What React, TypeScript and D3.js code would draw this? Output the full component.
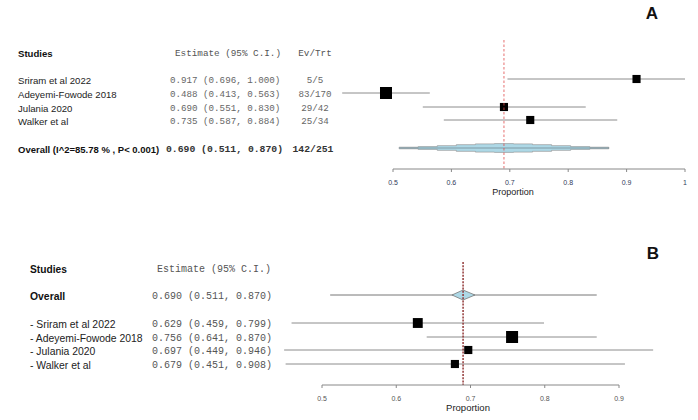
import React from "react";
import * as d3 from "d3";

// ---------- Panel A data ----------
const studiesA = ["Sriram et al 2022", "Adeyemi-Fowode 2018", "Julania 2020", "Walker et al"];
const estA = [0.917, 0.488, 0.69, 0.735];
const lowA = [0.696, 0.413, 0.551, 0.587];
const highA = [1.0, 0.563, 0.83, 0.884];
const evTrtA = ["5/5", "83/170", "29/42", "25/34"];
const weightA = [23, 34, 23, 23];
const overallLabelA = "Overall (I^2=85.78 % , P< 0.001)";
const overallA = { est: 0.69, low: 0.511, high: 0.87, ev: "142/251" };
const ticksA = [0.5, 0.6, 0.7, 0.8, 0.9, 1.0];

// ---------- Panel B data ----------
const studiesB = ["- Sriram et al 2022", "- Adeyemi-Fowode 2018", "- Julania 2020", "- Walker et al"];
const estB = [0.629, 0.756, 0.697, 0.679];
const lowB = [0.459, 0.641, 0.449, 0.451];
const highB = [0.799, 0.87, 0.946, 0.908];
const weightB = [28, 34, 23, 23];
const overallB = { est: 0.69, low: 0.511, high: 0.87, dLow: 0.675, dHigh: 0.706 };
const ticksB = [0.5, 0.6, 0.7, 0.8, 0.9];

const fmt = d3.format(".3f");
const ciText = (e: number, l: number, h: number) => `${fmt(e)} (${fmt(l)}, ${fmt(h)})`;

const SANS = "'Liberation Sans', Arial, sans-serif";
const MONO = "'Liberation Mono', 'Courier New', monospace";

export default function App() {
  const W = 698, H = 420;
  const xA = d3.scaleLinear().domain([0.5, 1.0]).range([393, 685]);
  const xB = d3.scaleLinear().domain([0.5, 0.9]).range([322, 619]);
  const size = d3.scaleLinear().domain([0, 34]).range([0, 12]);
  const rowsA = [79, 93, 107, 120];
  const yOvA = 148;
  const rowsB = [323, 337, 350, 364];
  const yOvB = 295;
  const axisYA = 169;
  const axisYB = 385;
  const ciColor = "#8c8c8c";

  // stepped gaussian-like summary shape for panel A
  const nSeg = 11;
  const sd = (overallA.high - overallA.low) / 3.92;
  const segs = d3.range(nSeg).map((i) => {
    const z0 = -1.96 + (3.92 * i) / nSeg;
    const z1 = -1.96 + (3.92 * (i + 1)) / nSeg;
    const zm = (z0 + z1) / 2;
    const h = Math.max(0.8, 4.7 * Math.exp((-zm * zm) / 2) - 0.3);
    return { x0: xA(overallA.est + z0 * sd), x1: xA(overallA.est + z1 * sd), h };
  });
  let top = `M${segs[0].x0},${yOvA}`;
  segs.forEach((s) => {
    top += ` L${s.x0},${yOvA - s.h} L${s.x1},${yOvA - s.h}`;
  });
  top += ` L${segs[nSeg - 1].x1},${yOvA}`;
  for (let i = nSeg - 1; i >= 0; i--) {
    const s = segs[i];
    top += ` L${s.x1},${yOvA + s.h} L${s.x0},${yOvA + s.h}`;
  }
  top += " Z";

  return (
    <svg width={W} height={H} style={{ position: "absolute", left: 0, top: 0, background: "#fff" }}>
      {/* ===== Panel A ===== */}
      <text x={652} y={13} fontFamily={SANS} fontWeight="bold" fontSize={17} textAnchor="middle" dominantBaseline="central" fill="#111">A</text>
      <text x={18} y={53} fontFamily={SANS} fontWeight="bold" fontSize={9.6} dominantBaseline="central" fill="#111">Studies</text>
      <text x={175} y={53} fontFamily={MONO} fontSize={9.3} dominantBaseline="central" fill="#555">Estimate (95% C.I.)</text>
      <text x={315} y={53} fontFamily={MONO} fontSize={9.3} textAnchor="middle" dominantBaseline="central" fill="#555">Ev/Trt</text>
      {studiesA.map((s, i) => (
        <g key={s}>
          <text x={18} y={rowsA[i] + 1} fontFamily={SANS} fontSize={9.6} dominantBaseline="central" fill="#222">{s}</text>
          <text x={170} y={rowsA[i] + 1} fontFamily={MONO} fontSize={9.2} dominantBaseline="central" fill="#666">{ciText(estA[i], lowA[i], highA[i])}</text>
          <text x={315} y={rowsA[i] + 1} fontFamily={MONO} fontSize={9.2} textAnchor="middle" dominantBaseline="central" fill="#666">{evTrtA[i]}</text>
          <line x1={xA(lowA[i])} x2={xA(highA[i])} y1={rowsA[i]} y2={rowsA[i]} stroke={ciColor} strokeWidth={1} />
          <rect x={xA(estA[i]) - size(weightA[i]) / 2} y={rowsA[i] - size(weightA[i]) / 2} width={size(weightA[i])} height={size(weightA[i])} fill="#000" />
        </g>
      ))}
      <text x={18} y={yOvA + 1} fontFamily={SANS} fontWeight="bold" fontSize={9.5} dominantBaseline="central" fill="#111">{overallLabelA}</text>
      <text x={166} y={yOvA + 1} fontFamily={MONO} fontWeight="bold" fontSize={9.75} dominantBaseline="central" fill="#333">{ciText(overallA.est, overallA.low, overallA.high)}</text>
      <text x={313} y={yOvA + 1} fontFamily={MONO} fontWeight="bold" fontSize={9.75} textAnchor="middle" dominantBaseline="central" fill="#333">{overallA.ev}</text>
      <path d={top} fill="#add8e6" stroke="#8a8a8a" strokeWidth={0.6} />
      <line x1={xA(overallA.low)} x2={xA(overallA.high)} y1={yOvA} y2={yOvA} stroke="#5a6a70" strokeWidth={0.9} opacity={0.6} />
      <line x1={xA(overallA.est)} x2={xA(overallA.est)} y1={40} y2={axisYA} stroke="#e04a4a" strokeWidth={0.8} strokeDasharray="2.5,2" />
      {/* axis A */}
      <line x1={xA(0.5)} x2={xA(1.0)} y1={axisYA} y2={axisYA} stroke="#888" strokeWidth={1} />
      {ticksA.map((t) => (
        <g key={t}>
          <line x1={xA(t)} x2={xA(t)} y1={axisYA} y2={axisYA + 3} stroke="#888" strokeWidth={1} />
          <text x={xA(t)} y={axisYA + 13} fontFamily={SANS} fontSize={7} textAnchor="middle" dominantBaseline="central" fill="#2f3a5a">{d3.format("~g")(t)}</text>
        </g>
      ))}
      <text x={513} y={192} fontFamily={SANS} fontSize={9} textAnchor="middle" dominantBaseline="central" fill="#222">Proportion</text>

      {/* ===== Panel B ===== */}
      <text x={653} y={253} fontFamily={SANS} fontWeight="bold" fontSize={17} textAnchor="middle" dominantBaseline="central" fill="#111">B</text>
      <text x={30} y={269} fontFamily={SANS} fontWeight="bold" fontSize={10.2} dominantBaseline="central" fill="#111">Studies</text>
      <text x={157} y={269} fontFamily={MONO} fontSize={10} dominantBaseline="central" fill="#555">Estimate (95% C.I.)</text>
      <text x={30} y={yOvB + 1} fontFamily={SANS} fontWeight="bold" fontSize={10.4} dominantBaseline="central" fill="#111">Overall</text>
      <text x={152} y={yOvB + 1} fontFamily={MONO} fontSize={10} dominantBaseline="central" fill="#555">{ciText(overallB.est, overallB.low, overallB.high)}</text>
      <line x1={xB(overallB.low)} x2={xB(overallB.high)} y1={yOvB} y2={yOvB} stroke="#777" strokeWidth={1} />
      <path
        d={`M${xB(overallB.dLow)},${yOvB} L${xB(overallB.est)},${yOvB - 5} L${xB(overallB.dHigh)},${yOvB} L${xB(overallB.est)},${yOvB + 5} Z`}
        fill="#add8e6"
        stroke="#777"
        strokeWidth={0.8}
      />
      {studiesB.map((s, i) => (
        <g key={s}>
          <text x={30} y={rowsB[i] + 1} fontFamily={SANS} fontSize={10.4} dominantBaseline="central" fill="#222">{s}</text>
          <text x={152} y={rowsB[i] + 1} fontFamily={MONO} fontSize={10} dominantBaseline="central" fill="#555">{ciText(estB[i], lowB[i], highB[i])}</text>
          <line x1={xB(lowB[i])} x2={xB(highB[i])} y1={rowsB[i]} y2={rowsB[i]} stroke={ciColor} strokeWidth={1} />
          <rect x={xB(estB[i]) - size(weightB[i]) / 2} y={rowsB[i] - size(weightB[i]) / 2} width={size(weightB[i])} height={size(weightB[i])} fill="#000" />
        </g>
      ))}
      <line x1={xB(overallB.est)} x2={xB(overallB.est)} y1={262} y2={axisYB} stroke="#8b2a2a" strokeWidth={1.4} strokeDasharray="2,1.2" />
      {/* axis B */}
      <line x1={xB(0.5)} x2={xB(0.9)} y1={axisYB} y2={axisYB} stroke="#888" strokeWidth={1} />
      {ticksB.map((t) => (
        <g key={t}>
          <line x1={xB(t)} x2={xB(t)} y1={axisYB} y2={axisYB + 3} stroke="#888" strokeWidth={1} />
          <text x={xB(t)} y={axisYB + 13} fontFamily={SANS} fontSize={7} textAnchor="middle" dominantBaseline="central" fill="#555">{d3.format(".1f")(t)}</text>
        </g>
      ))}
      <text x={468} y={407} fontFamily={SANS} fontSize={9.5} textAnchor="middle" dominantBaseline="central" fill="#222">Proportion</text>
    </svg>
  );
}
